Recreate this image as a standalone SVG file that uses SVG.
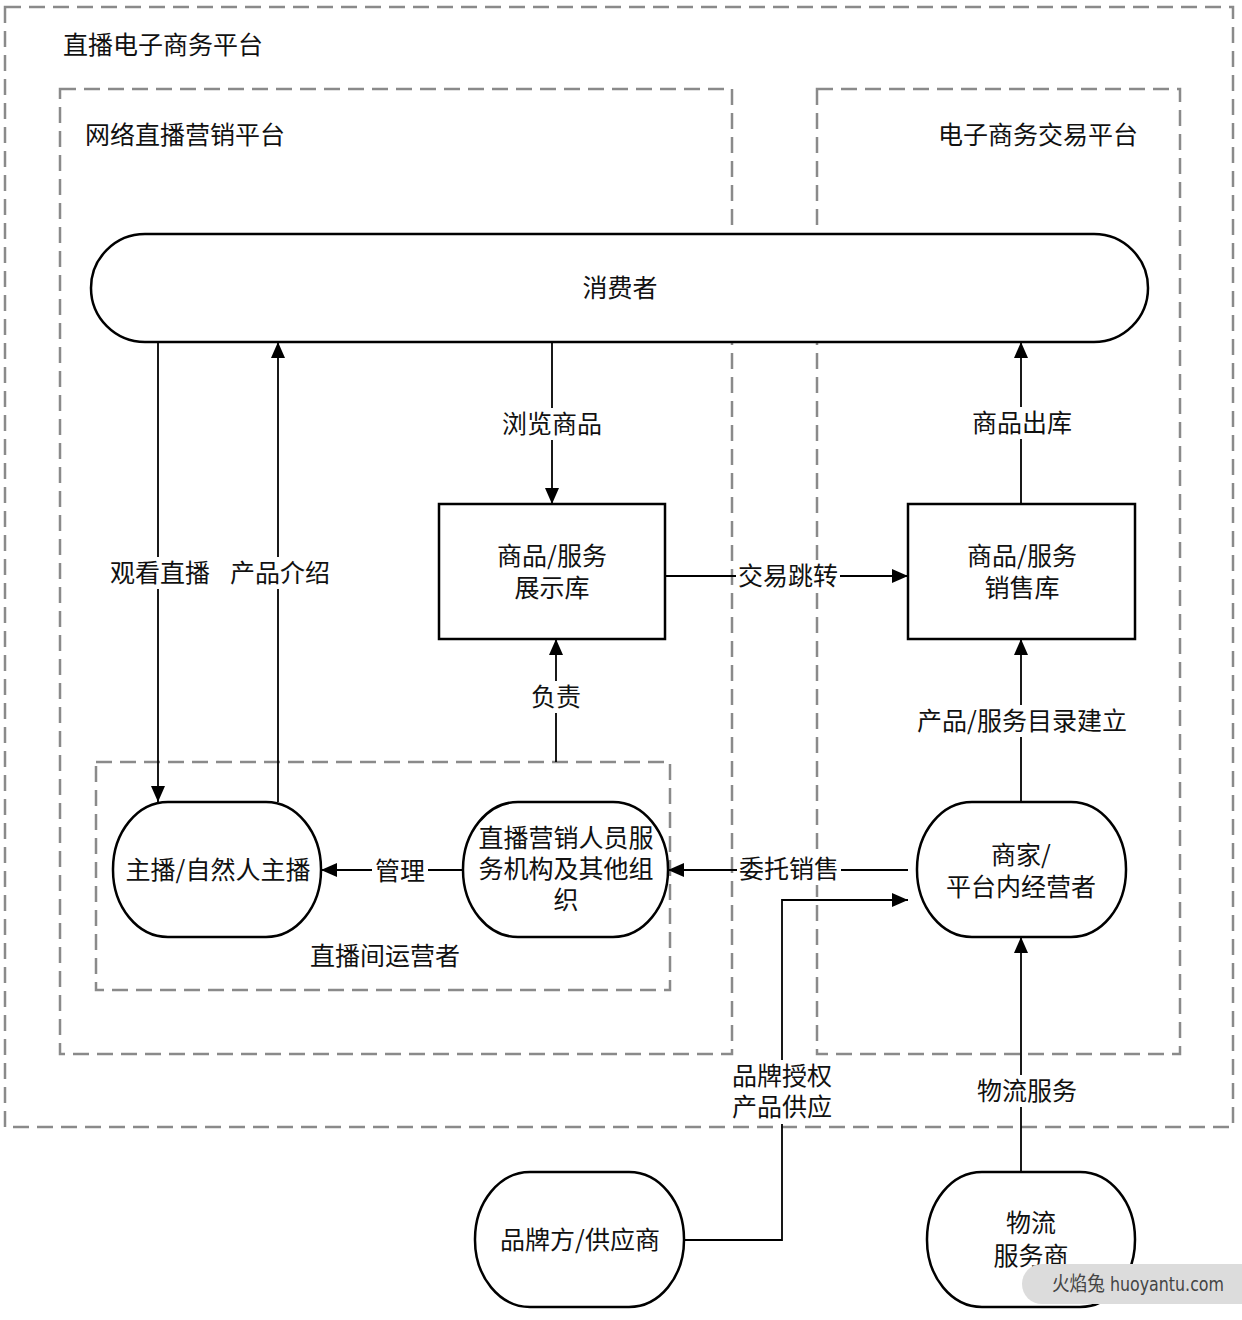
<svg xmlns="http://www.w3.org/2000/svg" width="1242" height="1320" viewBox="0 0 1242 1320">
<style>
text{font-family:"Noto Sans CJK SC","Noto Sans",sans-serif;font-size:25px;fill:#111;text-anchor:middle;dominant-baseline:central}
.t{text-anchor:start}
.dash{fill:none;stroke:#8a8a8a;stroke-width:2.5;stroke-dasharray:16 8}
.node{fill:#fff;stroke:#000;stroke-width:2.5}
.ln{fill:none;stroke:#000;stroke-width:1.8}
.bg{fill:#fff}
</style>
<defs>
<marker id="ah" viewBox="0 0 16 14" refX="16" refY="7" markerWidth="16" markerHeight="14" markerUnits="userSpaceOnUse" orient="auto">
<path d="M0,0 L16,7 L0,14 z" fill="#000"/>
</marker>
</defs>
<rect width="1242" height="1320" fill="#fff"/>
<g id="frames">
<rect class="dash" x="5" y="7" width="1228" height="1120"/>
<rect class="dash" x="60" y="89" width="672" height="965"/>
<rect class="dash" x="817" y="89" width="363" height="965"/>
<rect class="dash" x="96" y="762" width="574" height="228"/>
<text class="t" x="63" y="43">直播电子商务平台</text>
<text class="t" x="85" y="133">网络直播营销平台</text>
<text x="1038" y="133">电子商务交易平台</text>
<text x="385" y="954">直播间运营者</text>
</g>
<g id="connectors">
<line class="ln" x1="158" y1="342" x2="158" y2="802" marker-end="url(#ah)"/>
<line class="ln" x1="278" y1="802" x2="278" y2="342" marker-end="url(#ah)"/>
<line class="ln" x1="552" y1="342" x2="552" y2="504" marker-end="url(#ah)"/>
<line class="ln" x1="1021" y1="504" x2="1021" y2="342" marker-end="url(#ah)"/>
<line class="ln" x1="665" y1="576" x2="908" y2="576" marker-end="url(#ah)"/>
<line class="ln" x1="556" y1="762" x2="556" y2="639" marker-end="url(#ah)"/>
<line class="ln" x1="1021" y1="802" x2="1021" y2="639" marker-end="url(#ah)"/>
<line class="ln" x1="463" y1="870" x2="321" y2="870" marker-end="url(#ah)"/>
<line class="ln" x1="908" y1="870" x2="668" y2="870" marker-end="url(#ah)"/>
<polyline class="ln" points="684,1240 782,1240 782,900 908,900" marker-end="url(#ah)"/>
<line class="ln" x1="1021" y1="1172" x2="1021" y2="937" marker-end="url(#ah)"/>
<rect class="bg" x="498" y="408" width="108" height="32"/>
<text x="552" y="422">浏览商品</text>
<rect class="bg" x="968" y="407" width="108" height="32"/>
<text x="1022" y="421">商品出库</text>
<rect class="bg" x="106" y="557" width="108" height="32"/>
<text x="160" y="571">观看直播</text>
<rect class="bg" x="226" y="557" width="108" height="32"/>
<text x="280" y="571">产品介绍</text>
<rect class="bg" x="736" y="560" width="104" height="32"/>
<text x="788" y="574">交易跳转</text>
<rect class="bg" x="529" y="681" width="54" height="32"/>
<text x="556" y="695">负责</text>
<rect class="bg" x="912" y="705" width="220" height="32"/>
<text x="1022" y="719">产品/服务目录建立</text>
<rect class="bg" x="372" y="855" width="56" height="32"/>
<text x="400" y="869">管理</text>
<rect class="bg" x="737" y="853" width="104" height="32"/>
<text x="789" y="867">委托销售</text>
<rect class="bg" x="728" y="1060" width="108" height="64"/>
<text x="782" y="1074">品牌授权</text>
<text x="782" y="1105">产品供应</text>
<rect class="bg" x="973" y="1075" width="108" height="32"/>
<text x="1027" y="1089">物流服务</text>
</g>
<g id="consumer">
<rect class="node" x="91" y="234" width="1057" height="108" rx="54" ry="54"/>
<text x="620" y="286">消费者</text>
</g>
<g id="display-lib">
<rect class="node" x="439" y="504" width="226" height="135"/>
<text x="552" y="554">商品/服务</text>
<text x="552" y="586">展示库</text>
</g>
<g id="sales-lib">
<rect class="node" x="908" y="504" width="227" height="135"/>
<text x="1022" y="554">商品/服务</text>
<text x="1022" y="586">销售库</text>
</g>
<g id="anchor">
<rect class="node" x="113" y="802" width="208" height="135" rx="55" ry="67"/>
<text x="218" y="868">主播/自然人主播</text>
</g>
<g id="agency">
<rect class="node" x="463" y="802" width="205" height="135" rx="55" ry="67"/>
<text x="566" y="836">直播营销人员服</text>
<text x="566" y="867">务机构及其他组</text>
<text x="566" y="898">织</text>
</g>
<g id="merchant">
<rect class="node" x="917" y="802" width="209" height="135" rx="55" ry="67"/>
<text x="1021" y="853">商家/</text>
<text x="1021" y="885">平台内经营者</text>
</g>
<g id="brand">
<rect class="node" x="475" y="1172" width="209" height="135" rx="55" ry="67"/>
<text x="580" y="1238">品牌方/供应商</text>
</g>
<g id="logistics">
<rect class="node" x="927" y="1172" width="208" height="135" rx="55" ry="67"/>
<text x="1031" y="1221">物流</text>
<text x="1031" y="1254">服务商</text>
</g>
<g id="watermark">
<path d="M1042,1264 H1242 V1304 H1042 A20,20 0 0 1 1042,1264 z" fill="#dcdcdc"/>
<text class="t" x="1052" y="1284" textLength="172" lengthAdjust="spacingAndGlyphs" style="font-family:'DejaVu Sans Condensed','Noto Sans CJK SC',sans-serif;font-size:20px;fill:#444">火焰兔 huoyantu.com</text>
</g>
</svg>
